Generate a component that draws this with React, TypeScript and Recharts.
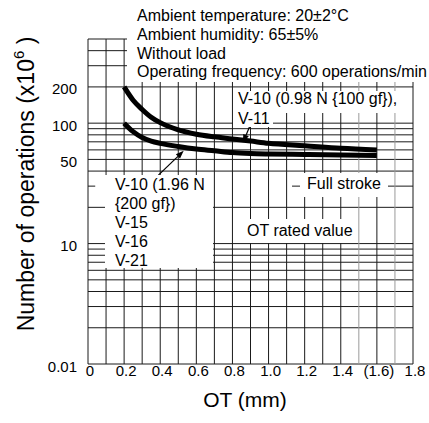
import React from 'react';
import { LineChart, Line, XAxis, YAxis, ReferenceLine } from 'recharts';

// ---- data ----
const otValues = [0.2, 0.25, 0.3, 0.35, 0.4, 0.5, 0.6, 0.7, 0.8, 0.9, 1.0, 1.2, 1.4, 1.6];
const v10_098N = [200, 155, 130, 112, 101, 88, 81, 77, 74, 71, 68, 65, 62, 60];
const v10_196N = [100, 85, 76, 71, 68, 64, 61, 59, 57, 56, 55.5, 55, 54.5, 54];

const xTicks = [0, 0.2, 0.4, 0.6, 0.8, 1.0, 1.2, 1.4, 1.6, 1.8];
const xTickLabels = ['0', '0.2', '0.4', '0.6', '0.8', '1.0', '1.2', '1.4', '(1.6)', '1.8'];
const yTicks = [1, 10, 50, 100, 200];
const yTickLabels = ['0.01', '10', '50', '100', '200'];

const xGrid = [0, 0.1, 0.2, 0.3, 0.4, 0.5, 0.6, 0.7, 0.8, 0.9, 1.0, 1.1, 1.2, 1.3, 1.4, 1.5, 1.6, 1.7, 1.8];
const xGridGray = [1.5, 1.7];
const yGrid = [1, 2, 3, 4, 5, 6, 7, 8, 9, 10, 20, 40, 50, 60, 70, 80, 90, 100, 200, 300, 400, 500];
const yPartial = [
  { y: 30, x1: 0, x2: 0.04 },
  { y: 30, x1: 1.13, x2: 1.8 },
];
const arrows = [
  { from: [0.897, 95], to: [0.858, 69] },
  { from: [0.39, 37], to: [0.53, 59] },
];

const data = otValues.map((ot, i) => ({ ot, a: v10_098N[i], b: v10_196N[i] }));

const FONT = '"Liberation Sans", Arial, Helvetica, sans-serif';

const XTick = (props: any) => {
  const { x, y, payload } = props;
  const i = xTicks.indexOf(payload.value);
  return (
    <text x={x + 2} y={y + 12} textAnchor="middle" fontSize={15} fontFamily={FONT} fill="#000">
      {xTickLabels[i]}
    </text>
  );
};

const YTick = (props: any) => {
  const { x, y, payload } = props;
  const i = yTicks.indexOf(payload.value);
  return (
    <text x={x - 11} y={y + 7.5} textAnchor="end" fontSize={15} fontFamily={FONT} fill="#000">
      {yTickLabels[i]}
    </text>
  );
};

const ArrowShape = (props: any) => {
  const { x1, y1, x2, y2 } = props;
  if ([x1, y1, x2, y2].some((v) => v === undefined || isNaN(v))) return null;
  const ang = Math.atan2(y2 - y1, x2 - x1);
  const L = 8;
  const W = 3;
  const bx = x2 - L * Math.cos(ang);
  const by = y2 - L * Math.sin(ang);
  const px = -Math.sin(ang) * W;
  const py = Math.cos(ang) * W;
  return (
    <g>
      <line x1={x1} y1={y1} x2={bx} y2={by} stroke="#000" strokeWidth={1.2} />
      <polygon points={`${x2},${y2} ${bx + px},${by + py} ${bx - px},${by - py}`} fill="#000" />
    </g>
  );
};

export default function App() {
  return (
    <div style={{ position: 'absolute', left: 0, top: 0, width: 429, height: 423, background: '#fff' }}>
      <LineChart width={429} height={423} data={data} margin={{ top: 39, right: 16, bottom: 0, left: 0 }}>
        <XAxis
          dataKey="ot"
          type="number"
          domain={[0, 1.8]}
          ticks={xTicks}
          interval={0}
          tick={<XTick />}
          tickSize={0}
          tickMargin={0}
          axisLine={false}
          tickLine={false}
          height={59}
          allowDataOverflow
        />
        <YAxis
          type="number"
          scale="log"
          domain={[1, 500]}
          ticks={yTicks}
          interval={0}
          tick={<YTick />}
          tickSize={0}
          tickMargin={0}
          axisLine={false}
          tickLine={false}
          width={88}
          allowDataOverflow
        />
        {yGrid.map((v) => (
          <ReferenceLine key={'h' + v} y={v} stroke="#1a1a1a" strokeWidth={1} ifOverflow="visible" />
        ))}
        {yPartial.map((s, i) => (
          <ReferenceLine
            key={'p' + i}
            segment={[{ x: s.x1, y: s.y }, { x: s.x2, y: s.y }]}
            stroke="#1a1a1a"
            strokeWidth={1}
            ifOverflow="visible"
          />
        ))}
        {xGrid.map((v) => (
          <ReferenceLine
            key={'v' + v}
            x={v}
            stroke={xGridGray.includes(v) ? '#9a9a9a' : '#1a1a1a'}
            strokeWidth={1}
            ifOverflow="visible"
          />
        ))}
        {arrows.map((a, i) => (
          <ReferenceLine
            key={'a' + i}
            segment={[{ x: a.from[0], y: a.from[1] }, { x: a.to[0], y: a.to[1] }]}
            shape={<ArrowShape />}
            ifOverflow="visible"
          />
        ))}
        <Line dataKey="a" type="monotone" stroke="#000" strokeWidth={5} dot={false} isAnimationActive={false} />
        <Line dataKey="b" type="monotone" stroke="#000" strokeWidth={5} dot={false} isAnimationActive={false} />
      </LineChart>
      <svg
        width={429}
        height={423}
        style={{ position: 'absolute', left: 0, top: 0, pointerEvents: 'none' }}
        fontFamily={FONT}
      >
        <rect x={127} y={0} width={302} height={82} fill="#fff" />
        <text x={137} y={21} fontSize={16}>Ambient temperature: 20±2°C</text>
        <text x={137} y={40} fontSize={16}>Ambient humidity: 65±5%</text>
        <text x={137} y={58.5} fontSize={16}>Without load</text>
        <text x={137} y={77} fontSize={16}>Operating frequency: 600 operations/min</text>

        <rect x={233} y={91} width={171} height={22} fill="#fff" />
        <rect x={233} y={113} width={40} height={14} fill="#fff" />
        <text x={238} y={104} fontSize={16}>V-10 (0.98 N {'{'}100 gf{'}'}),</text>
        <text x={238} y={123.5} fontSize={16}>V-11</text>

        <rect x={105} y={175} width={108} height={93} fill="#fff" />
        <text x={115} y={190} fontSize={16}>V-10 (1.96 N</text>
        <text x={115} y={209} fontSize={16}>{'{'}200 gf{'}'})</text>
        <text x={115} y={228} fontSize={16}>V-15</text>
        <text x={115} y={247} fontSize={16}>V-16</text>
        <text x={115} y={266} fontSize={16}>V-21</text>

        <rect x={300} y={173} width={88} height={24} fill="#fff" />
        <text x={307} y={189} fontSize={16}>Full stroke</text>

        <rect x={245} y={219} width={109} height={24} fill="#fff" />
        <text x={247} y={236} fontSize={16}>OT rated value</text>

        <text x={245} y={407} fontSize={21} textAnchor="middle">OT (mm)</text>
        <text x={34} y={184} fontSize={23} textAnchor="middle" transform="rotate(-90 34 184)">
          Number of operations  (x10<tspan dy={-10} fontSize={15}>6</tspan>
          <tspan dy={10}> )</tspan>
        </text>
      </svg>
    </div>
  );
}
